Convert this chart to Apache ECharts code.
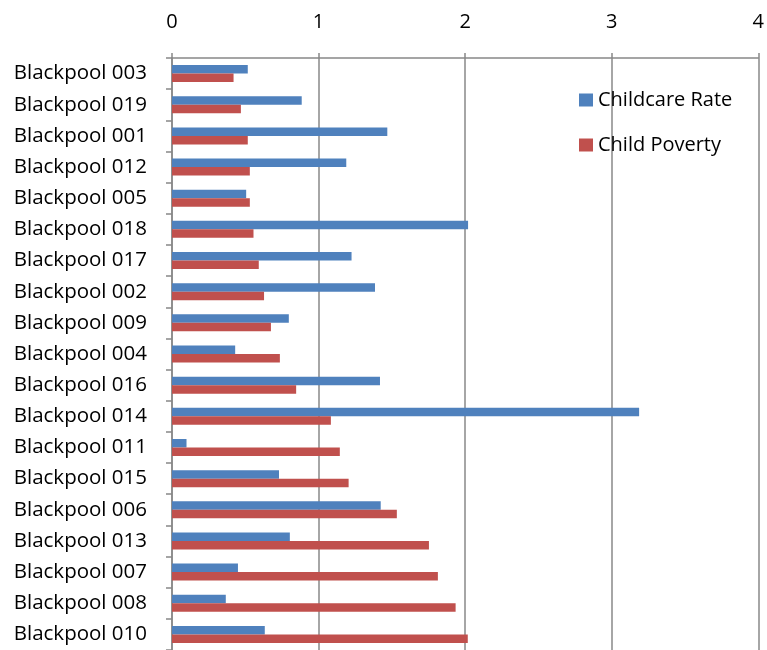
<!DOCTYPE html>
<html>
<head>
<meta charset="utf-8">
<script src="https://cdn.jsdelivr.net/npm/echarts@6/dist/echarts.min.js"></script>
<style>html,body{margin:0;padding:0;background:#fff}#c{width:767px;height:650px}</style>
</head>
<body>
<div id="c"></div>
<script>
const categories = ['Blackpool 003','Blackpool 019','Blackpool 001','Blackpool 012','Blackpool 005','Blackpool 018','Blackpool 017','Blackpool 002','Blackpool 009','Blackpool 004','Blackpool 016','Blackpool 014','Blackpool 011','Blackpool 015','Blackpool 006','Blackpool 013','Blackpool 007','Blackpool 008','Blackpool 010'];
const childcareRate = [0.517,0.885,1.469,1.189,0.506,2.02,1.225,1.385,0.797,0.431,1.419,3.187,0.099,0.73,1.424,0.804,0.45,0.367,0.633];
const childPoverty = [0.42,0.47,0.517,0.531,0.531,0.556,0.592,0.628,0.675,0.736,0.847,1.084,1.145,1.205,1.534,1.753,1.814,1.935,2.018];
const xTicks = [0,1,2,3,4];

const font = 'Open Sans';
const fs = 20.5;
const chart = echarts.init(document.getElementById('c'));
chart.setOption({
  animation: false,
  textStyle: {fontFamily: font},
  grid: {left: 172, top: 58, width: 592, height: 595, containLabel: false},
  legend: {
    orient: 'vertical', left: 574, top: 85,
    icon: 'rect', itemWidth: 14, itemHeight: 13, itemGap: 25,
    textStyle: {fontFamily: font, fontSize: 20, color: '#000'},
    data: ['Childcare Rate','Child Poverty']
  },
  xAxis: {
    type: 'value', position: 'top', min: xTicks[0], max: xTicks[xTicks.length-1], interval: 1,
    axisLine: {show: true, lineStyle: {color: '#888', width: 1.5}},
    axisTick: {show: true, length: 5, inside: false, lineStyle: {color: '#888', width: 1.5}},
    axisLabel: {fontFamily: font, fontSize: 20, color: '#000', margin: 26},
    splitLine: {show: true, lineStyle: {color: '#888', width: 1.5}}
  },
  yAxis: {
    type: 'category', inverse: true, data: categories,
    axisLine: {show: true, lineStyle: {color: '#888', width: 1.5}},
    axisTick: {show: true, length: 6, lineStyle: {color: '#888', width: 1.5}},
    axisLabel: {fontFamily: font, fontSize: fs, color: '#000', margin: 25, padding: [3, 0, 0, 0]}
  },
  series: [
    {name: 'Childcare Rate', type: 'bar', data: childcareRate, barWidth: 8.5, barGap: '0%',
     itemStyle: {color: '#4F81BD'}},
    {name: 'Child Poverty', type: 'bar', data: childPoverty, barWidth: 8.5, barGap: '0%',
     itemStyle: {color: '#C0504D'}}
  ]
});
</script>
</body>
</html>
